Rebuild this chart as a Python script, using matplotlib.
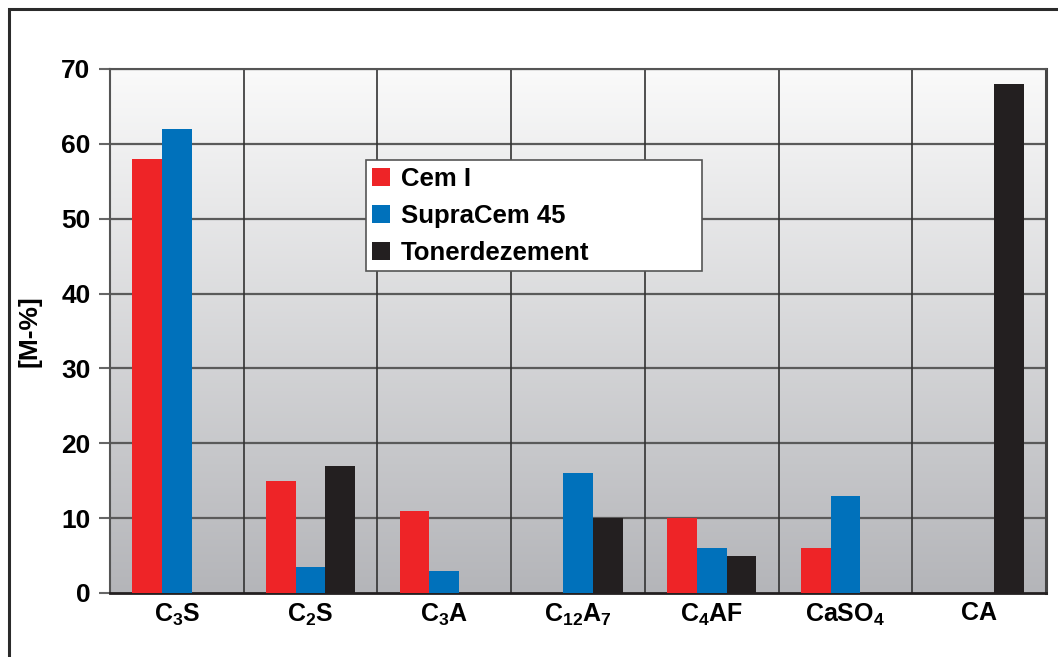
import numpy as np
import matplotlib.pyplot as plt
from matplotlib.patches import Rectangle
from matplotlib.colors import LinearSegmentedColormap

plt.rcParams['font.family'] = ['Liberation Sans', 'DejaVu Sans']
plt.rcParams['font.weight'] = 'bold'
plt.rcParams['mathtext.fontset'] = 'custom'
plt.rcParams['mathtext.rm'] = 'Liberation Sans:bold'
plt.rcParams['mathtext.bf'] = 'Liberation Sans:bold'
plt.rcParams['mathtext.default'] = 'rm'

# phase contents in mass-%
phases = [r'C$_3$S', r'C$_2$S', r'C$_3$A', r'C$_{12}$A$_7$', r'C$_4$AF', r'CaSO$_4$', 'CA']
cem1 = [58, 15, 11, 0, 10, 6, 0]
supracem = [62, 3.5, 3, 16, 6, 13, 0]
tonerde = [0, 17, 0, 10, 5, 0, 68]
series_names = ['Cem I', 'SupraCem 45', 'Tonerdezement']
colors = ['#ee2427', '#0071bb', '#231f20']

fig = plt.figure(figsize=(10.58, 6.57), dpi=100)
ax = fig.add_axes([110 / 1058, 1 - 593 / 657, 936 / 1058, 524 / 657])

# outer frame (runs off the right and bottom edge)
fig.patches.append(Rectangle((9 / 1058, -0.1), 1.2, 1 - 9 / 657 + 0.1,
                             transform=fig.transFigure, fill=False,
                             edgecolor='#2b2b2b', linewidth=2.2))

# light-to-dark gradient behind the bars
grad = np.linspace(0, 1, 256).reshape(-1, 1)
ax.imshow(grad, extent=[0, 1, 0, 1], transform=ax.transAxes, aspect='auto',
          cmap=LinearSegmentedColormap.from_list('bg', ['#b4b5b9', '#fafafa']),
          origin='lower', zorder=0)

x = np.arange(len(phases))
w = 0.222
for i, (vals, name, c) in enumerate(zip([cem1, supracem, tonerde], series_names, colors)):
    ax.bar(x + (i - 1) * w, vals, width=w, color=c, label=name, zorder=3, linewidth=0)

ax.set_xlim(-0.5, len(phases) - 0.5)
ax.set_ylim(0, 70)
ax.set_yticks(range(0, 71, 10))
ax.set_xticks(x)
ax.set_xticklabels(phases, fontsize=18)
ax.tick_params(axis='x', length=0, pad=6)
ax.tick_params(axis='y', length=8, width=1.5, color='#666666', labelsize=19, pad=6)

for yv in range(10, 71, 10):
    ax.axhline(yv, color='#5a5a5a', linewidth=1.6, zorder=1)
for xv in np.arange(0.5, len(phases) - 0.5, 1):
    ax.axvline(xv, color='#333333', linewidth=1.2, zorder=1)

ax.spines['left'].set_color('#555555')
ax.spines['left'].set_linewidth(1.5)
ax.spines['right'].set_color('#444444')
ax.spines['right'].set_linewidth(2.2)
ax.spines['bottom'].set_color('#231f20')
ax.spines['bottom'].set_linewidth(2)
ax.spines['top'].set_color('#555555')
ax.spines['top'].set_linewidth(1.5)

ax.set_ylabel('[M-%]', fontsize=19, fontweight='bold', labelpad=14)

leg = ax.legend(loc='lower left', bbox_to_anchor=(0.2735, 0.6145, 0.359, 0.208),
                mode='expand', fontsize=18.5, frameon=True, fancybox=False,
                framealpha=1, handlelength=0.7, handleheight=0.7, handletextpad=0.4,
                labelspacing=0.5, borderpad=0.25, borderaxespad=0)
leg.get_frame().set_edgecolor('#555555')
leg.get_frame().set_linewidth(1.2)
leg.set_zorder(5)

fig.savefig('out.png', dpi=100)
